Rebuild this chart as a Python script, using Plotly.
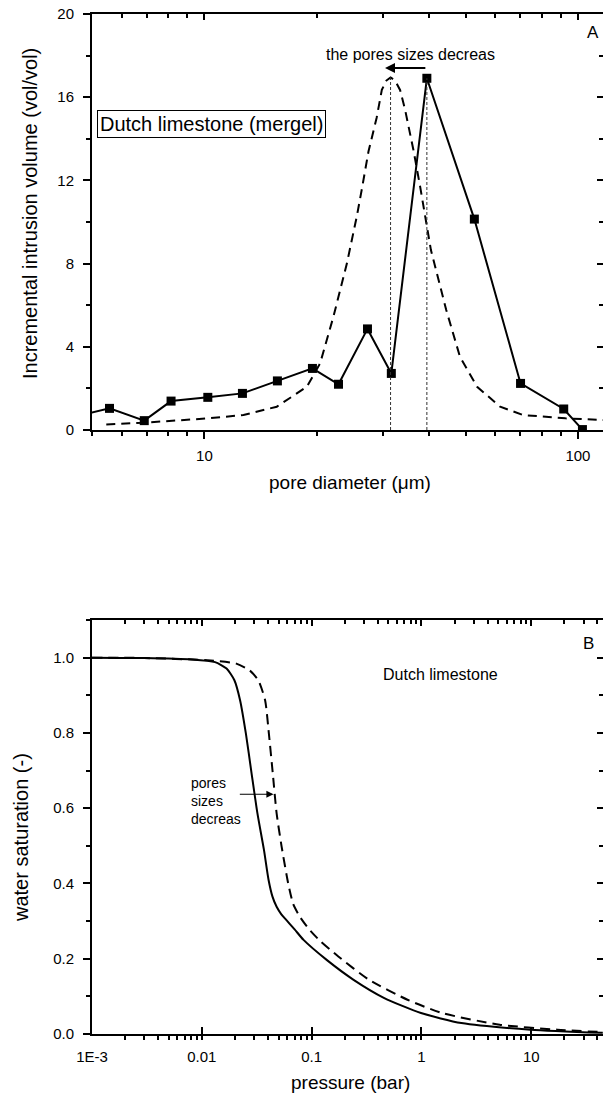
import math
import plotly.graph_objects as go

# ---------------- data ----------------
# Panel A: measured incremental intrusion (solid with squares)
pore_diam = [4.6, 5.57, 6.90, 8.14, 10.21, 12.64, 15.68, 19.46, 22.85, 27.32,
             31.65, 39.4, 52.8, 70.2, 91.6, 102.8]
incr_vol = [0.69, 1.04, 0.45, 1.39, 1.57, 1.76, 2.36, 2.96, 2.20, 4.86,
            2.72, 16.91, 10.14, 2.24, 1.01, 0.02]

# Panel A: shifted model distribution (dashed)
model_diam = [5.46, 6.87, 10.2, 12.72, 15.62, 18.80, 20.40, 22.15, 24.06, 24.8,
              25.6, 26.4, 27.5, 28.9, 29.85, 30.7, 31.5, 32.4, 33.4, 34.45,
              36.27, 37.8, 39.8, 40.4, 44.4, 48.3, 53.7, 61.9, 71.3, 92.6, 117.0]
model_vol = [0.27, 0.35, 0.56, 0.72, 1.12, 2.08, 3.2, 5.45, 8.0, 9.1,
             10.3, 11.6, 13.4, 15.0, 16.35, 16.8, 16.95, 16.8, 16.35, 15.4,
             13.46, 11.7, 9.46, 8.65, 5.77, 3.53, 2.08, 1.12, 0.72, 0.56, 0.48]

# Panel B: water saturation vs pressure
pressure_solid = [0.001, 0.003, 0.00814, 0.0132, 0.0168, 0.0198, 0.0223, 0.0252,
                  0.0284, 0.0321, 0.0368, 0.0405, 0.044, 0.048, 0.053, 0.0587,
                  0.0700, 0.0844, 0.137, 0.241, 0.459, 0.99, 2.31, 9.86, 44.8]
sat_solid = [1.0, 0.999, 0.995, 0.988, 0.971, 0.94, 0.887, 0.798,
             0.692, 0.586, 0.489, 0.41, 0.365, 0.338, 0.318, 0.303,
             0.278, 0.25, 0.197, 0.144, 0.0955, 0.0557, 0.029, 0.0114, 0.003]

pressure_dash = [0.001, 0.003, 0.01125, 0.0206, 0.0273, 0.0327, 0.0377, 0.0408,
                 0.0443, 0.048, 0.0533, 0.0612, 0.068, 0.078, 0.095, 0.117,
                 0.175, 0.333, 0.746, 1.54, 5.16, 17.3, 44.8]
sat_dash = [1.0, 0.999, 0.993, 0.984, 0.966, 0.94, 0.887, 0.798,
            0.692, 0.586, 0.498, 0.40, 0.345, 0.312, 0.278, 0.25,
            0.206, 0.144, 0.091, 0.0557, 0.0247, 0.0114, 0.005]

x_ticks_b = [0.001, 0.01, 0.1, 1, 10]
x_ticktext_b = ["1E-3", "0.01", "0.1", "1", "10"]
x_ticks_a = [10, 100]
x_ticktext_a = ["10", "100"]

# ---------------- layout helpers ----------------
W, H = 603, 1095
ML, MR, MT, MB = 92, 0, 14, 61
PW = W - ML - MR
PH = H - MT - MB


def px(x):
    return (x - ML) / PW


def py(y):
    return (H - MB - y) / PH


FONT = "Arial, Liberation Sans, sans-serif"
BLACK = "#000000"

dom_a = [py(430), 1.0]
dom_b = [0.0, py(620)]
range_a = [math.log10(5.0), math.log10(116.7)]
range_b = [-3.0, math.log10(45.0)]

fig = go.Figure()

# Panel A traces
fig.add_trace(go.Scatter(x=model_diam, y=model_vol, mode="lines",
                         line=dict(color=BLACK, width=2, dash="9px,6px"),
                         xaxis="x", yaxis="y", showlegend=False))
fig.add_trace(go.Scatter(x=pore_diam, y=incr_vol, mode="lines+markers",
                         line=dict(color=BLACK, width=2),
                         marker=dict(symbol="square", size=9, color=BLACK),
                         xaxis="x", yaxis="y", showlegend=False))

# vertical dotted lines at the two peaks
i_m = model_vol.index(max(model_vol))
i_s = incr_vol.index(max(incr_vol))
peak_m_x, peak_m_y = model_diam[i_m], model_vol[i_m]
peak_s_x, peak_s_y = pore_diam[i_s], incr_vol[i_s]
for xv, yv in [(peak_m_x, peak_m_y), (peak_s_x, peak_s_y)]:
    fig.add_trace(go.Scatter(x=[xv, xv], y=[0, yv], mode="lines",
                             line=dict(color="#333333", width=1, dash="3px,2px"),
                             xaxis="x", yaxis="y", showlegend=False))

# Panel B traces
fig.add_trace(go.Scatter(x=pressure_dash, y=sat_dash, mode="lines",
                         line=dict(color=BLACK, width=2, dash="10px,6px", shape="spline", smoothing=0.6),
                         xaxis="x2", yaxis="y2", showlegend=False))
fig.add_trace(go.Scatter(x=pressure_solid, y=sat_solid, mode="lines",
                         line=dict(color=BLACK, width=2, shape="spline", smoothing=0.6),
                         xaxis="x2", yaxis="y2", showlegend=False))

# dummy traces so that the mirror axes are registered
for xa, ya in [("x3", "y"), ("x", "y3"), ("x4", "y2"), ("x2", "y4")]:
    fig.add_trace(go.Scatter(x=[None], y=[None], xaxis=xa, yaxis=ya,
                             showlegend=False, hoverinfo="skip"))

tickfont = dict(family=FONT, size=15, color=BLACK)
common = dict(showline=True, linecolor=BLACK, linewidth=2, showgrid=False,
              zeroline=False, tickcolor=BLACK, tickwidth=1.5, tickfont=tickfont)

fig.update_layout(
    width=W, height=H,
    margin=dict(l=ML, r=MR, t=MT, b=MB, pad=0),
    paper_bgcolor="white", plot_bgcolor="white",
    font=dict(family=FONT, color=BLACK),
    showlegend=False,
    # ---- panel A ----
    xaxis=dict(type="log", range=range_a, domain=[0, 1], anchor="y",
               tickmode="array", tickvals=x_ticks_a, ticktext=x_ticktext_a,
               ticks="outside", ticklen=7, ticklabelstandoff=4,
               minor=dict(ticks="outside", ticklen=4, tickwidth=1.5, tickcolor=BLACK,
                          dtick="D1", showgrid=False),
               **common),
    yaxis=dict(range=[0, 20], domain=dom_a, anchor="x",
               tickmode="linear", tick0=0, dtick=4,
               ticks="outside", ticklen=7, ticklabelstandoff=6,
               minor=dict(ticks="outside", ticklen=4, tickwidth=1.5, tickcolor=BLACK,
                          dtick=2, showgrid=False),
               **common),
    xaxis3=dict(type="log", range=range_a, overlaying="x", anchor="y", side="top",
                tickmode="array", tickvals=x_ticks_a, showticklabels=False,
                ticks="inside", ticklen=6,
                minor=dict(ticks="inside", ticklen=4, tickwidth=1.5, tickcolor=BLACK,
                           dtick="D1", showgrid=False),
                **common),
    yaxis3=dict(range=[0, 20], overlaying="y", anchor="x", side="right",
                tickmode="linear", tick0=0, dtick=4, showticklabels=False,
                ticks="inside", ticklen=6,
                minor=dict(ticks="inside", ticklen=4, tickwidth=1.5, tickcolor=BLACK,
                           dtick=2, showgrid=False),
                **common),
    # ---- panel B ----
    xaxis2=dict(type="log", range=range_b, domain=[0, 1], anchor="y2",
                tickmode="array", tickvals=x_ticks_b, ticktext=x_ticktext_b,
                ticks="inside", ticklen=7, ticklabelstandoff=8,
                minor=dict(ticks="outside", ticklen=4, tickwidth=1.5, tickcolor=BLACK,
                           dtick="D1", showgrid=False),
                **common),
    yaxis2=dict(range=[0, 1.1], domain=dom_b, anchor="x2",
                tickmode="linear", tick0=0, dtick=0.2, tickformat=".1f",
                ticks="outside", ticklen=7, ticklabelstandoff=6,
                minor=dict(ticks="outside", ticklen=4, tickwidth=1.5, tickcolor=BLACK,
                           dtick=0.1, showgrid=False),
                **common),
    xaxis4=dict(type="log", range=range_b, overlaying="x2", anchor="y2", side="top",
                tickmode="array", tickvals=x_ticks_b, showticklabels=False,
                ticks="inside", ticklen=6,
                minor=dict(ticks="inside", ticklen=4, tickwidth=1.5, tickcolor=BLACK,
                           dtick="D1", showgrid=False),
                **common),
    yaxis4=dict(range=[0, 1.1], overlaying="y2", anchor="x2", side="right",
                tickmode="linear", tick0=0, dtick=0.2, showticklabels=False,
                ticks="inside", ticklen=6,
                minor=dict(ticks="inside", ticklen=4, tickwidth=1.5, tickcolor=BLACK,
                           dtick=0.1, showgrid=False),
                **common),
)


def txt(text, x, y, size, **kw):
    d = dict(text=text, x=px(x), y=py(y), xref="paper", yref="paper",
             showarrow=False, xanchor="center", yanchor="middle",
             font=dict(family=FONT, size=size, color=BLACK))
    d.update(kw)
    fig.add_annotation(**d)


# axis titles
txt("Incremental intrusion volume (vol/vol)", 30, 214, 20, textangle=-90)
txt("pore diameter (\u03bcm)", 350, 482, 19)
txt("water saturation (-)", 21, 838, 20, textangle=-90)
txt("pressure (bar)", 350, 1082, 19)

# panel labels and notes
txt("A", 593, 32, 17)
txt("B", 588, 643, 17)
txt("Dutch limestone (mergel)", 211.5, 124.5, 20,
    bordercolor=BLACK, borderwidth=1, borderpad=2, bgcolor="white")
txt("the pores sizes decreas", 410, 55, 16)
txt("Dutch limestone", 440, 675, 16)
txt("pores<br>sizes<br>decreas", 188.5, 800.5, 14, xanchor="left", align="left")

# arrow in panel A: from measured peak to model peak
arrow_y_a = 17.4
fig.add_annotation(x=math.log10(peak_m_x / 1.035), y=arrow_y_a,
                   ax=math.log10(peak_s_x), ay=arrow_y_a,
                   xref="x", yref="y", axref="x", ayref="y",
                   text="", showarrow=True, arrowhead=2, arrowsize=1,
                   arrowwidth=2, arrowcolor=BLACK)

# arrow in panel B: pointing right
fig.add_annotation(x=math.log10(0.045), y=0.637,
                   ax=math.log10(0.0215), ay=0.637,
                   xref="x2", yref="y2", axref="x2", ayref="y2",
                   text="", showarrow=True, arrowhead=2, arrowsize=1.2,
                   arrowwidth=1.2, arrowcolor=BLACK)

fig.write_html(
    "out.html",
    config={"displayModeBar": False},
    post_script="document.body.style.margin='0';document.body.style.overflow='hidden';",
)
